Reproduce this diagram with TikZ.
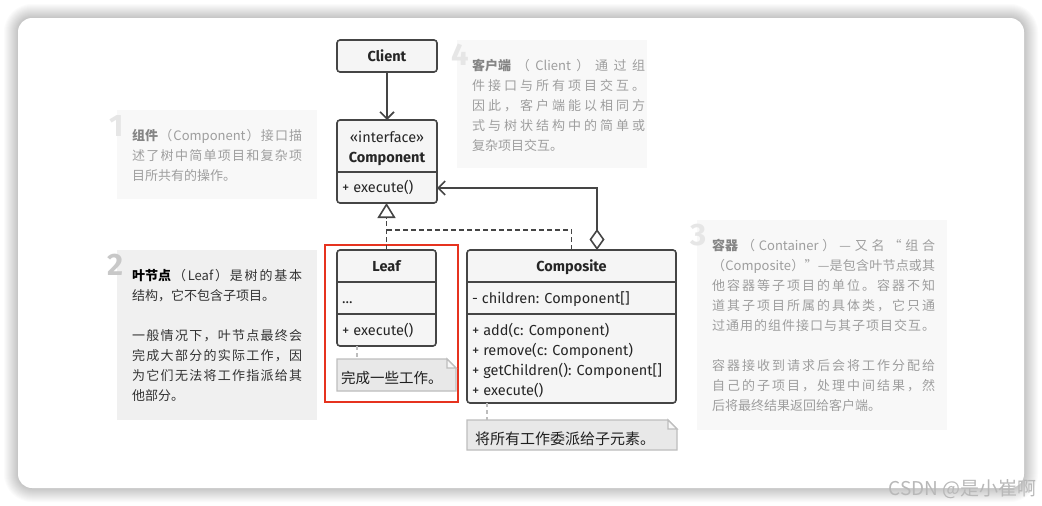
\documentclass[tikz,border=0pt]{standalone}
\usepackage{fontspec}
\setmainfont{Fira Sans}
\newfontfamily\cjk{Noto Sans CJK SC}
\usetikzlibrary{arrows.meta,calc}
\definecolor{umlline}{HTML}{454545}
\definecolor{umlfill}{HTML}{F5F5F5}
\definecolor{notefill}{HTML}{F8F8F8}
\definecolor{notefilldark}{HTML}{F0F0F0}
\definecolor{notegray}{HTML}{9E9E9E}
\definecolor{notegraybold}{HTML}{858585}
\definecolor{notedark}{HTML}{333333}
\definecolor{digitlight}{HTML}{E6E6E6}
\definecolor{digitdark}{HTML}{C8C8C8}
\definecolor{memofill}{HTML}{E8E8E8}
\definecolor{memoline}{HTML}{BDBDBD}
\definecolor{hlred}{HTML}{E6331F}
\definecolor{wmark}{HTML}{B8B8B8}
\makeatletter
\newcommand\jl[1]{\makebox[\linewidth][s]{\@tfor\jtok:=#1\do{{\jtok}\hfil}\unskip}}
\makeatother
\tikzset{
  umlbox/.style={draw=umlline, fill=umlfill, line width=1.6pt, rounded corners=3pt, inner sep=0pt, outer sep=0pt},
  divider/.style={draw=umlline, line width=1.6pt},
  umltext/.style={font=\fontsize{14.5}{17}\selectfont, text=black!85, inner sep=0pt},
  umlbold/.style={umltext, font=\fontsize{14.5}{17}\selectfont\bfseries},
  notebox/.style={fill=notefill, inner sep=0pt, outer sep=0pt},
  noteboxdark/.style={fill=notefilldark, inner sep=0pt, outer sep=0pt},
  notetext/.style={font=\cjk\fontsize{13}{20}\selectfont, text=notegray, align=left, inner sep=0pt, anchor=north west},
  notetextdark/.style={notetext, text=notedark},
  digit/.style={font=\fontsize{31}{31}\selectfont\bfseries, text=digitlight, inner sep=0pt, anchor=base west},
  memobox/.style={inner sep=0pt, outer sep=0pt},
  memoline/.style={draw=memoline, line width=1.4pt, fill=memofill},
  memotext/.style={font=\cjk\fontsize{15}{18}\selectfont, text=black!88, inner sep=0pt, anchor=base west},
  memolink/.style={draw=memoline, line width=1.4pt, dash pattern=on 4pt off 3pt},
  assoc/.style={draw=umlline, line width=1.6pt, -{Straight Barb[length=7pt,width=14pt]}},
  realize/.style={draw=umlline, line width=1.6pt, dash pattern=on 5pt off 3pt, -{Triangle[length=15pt,width=18pt,fill=white]}},
  realizeline/.style={draw=umlline, line width=1.6pt, dash pattern=on 5pt off 3pt},
  aggreg/.style={draw=umlline, line width=1.6pt, {Diamond[length=21pt,width=15pt,fill=white]}-{Straight Barb[length=7pt,width=14pt]}},
}
\begin{document}
\begin{tikzpicture}[x=1pt,y=-1pt]
\useasboundingbox (0,0) rectangle (1042,506);
\fill[white] (0,0) rectangle (1042,506);
% card shadow
\foreach \i in {1,...,14}{
  \pgfmathsetmacro\rr{14+\i}
  \fill[black, opacity=0.015, rounded corners=\rr pt] (18-\i,18-\i) rectangle (1024+\i,488+\i);
}
\fill[white, rounded corners=14pt] (18,18) rectangle (1024,488);

% ---- notes ----
\node[notebox, minimum width=200, minimum height=89] (note1) at (217,154.5) {};
\node[digit] (d1) at (109,136) {1};
\node[notetext] (n1t) at (132,129) [text width=170pt] {%
\jl{{\color{notegraybold}\bfseries 组件}（{Component}）接口描}\\
\jl{述了树中简单项目和复杂项}\\
目所共有的操作。};

\node[notebox, minimum width=190, minimum height=128] (note4) at (552,104) {};
\node[digit] (d4) at (451,65) {4};
\node[notetext] (n4t) at (472,59) [text width=173pt] {%
\jl{{\color{notegraybold}\bfseries 客户端}（{Client}）通过组}\\
\jl{件接口与所有项目交互。}\\
\jl{因此，客户端能以相同方}\\
\jl{式与树状结构中的简单或}\\
复杂项目交互。};

\node[noteboxdark, minimum width=200, minimum height=170] (note2) at (217,335) {};
\node[digit, text=digitdark] (d2) at (107,275) {2};
\node[notetextdark] (n2t) at (132,269) [text width=170pt] {%
\jl{{\color{black}\bfseries 叶节点}（{Leaf}）是树的基本}\\
结构，它不包含子项目。\\
\mbox{}\\
\jl{一般情况下，叶节点最终会}\\
\jl{完成大部分的实际工作，因}\\
\jl{为它们无法将工作指派给其}\\
他部分。};

\node[notebox, minimum width=250, minimum height=210] (note3) at (822,325) {};
\node[digit] (d3) at (690,245) {3};
\node[notetext] (n3t) at (712,239) [text width=223pt] {%
\jl{{\color{notegraybold}\bfseries 容器}（{Container}）—又名“组合}\\
\jl{（{Composite}）”—是包含叶节点或其}\\
\jl{他容器等子项目的单位。容器不知}\\
\jl{道其子项目所属的具体类，它只通}\\
\jl{过通用的组件接口与其子项目交互。}\\
\mbox{}\\
\jl{容器接收到请求后会将工作分配给}\\
\jl{自己的子项目，处理中间结果，然}\\
后将最终结果返回给客户端。};

% ---- highlight ----
\node[draw=hlred, line width=2.2pt, minimum width=133, minimum height=157, inner sep=0pt] (hl) at (391.5,323.5) {};

% ---- UML classes ----
\node[umlbox, minimum width=100, minimum height=32] (client) at (387,56) {};
\node[umlbold, anchor=base] (clientt) at (387,61) {Client};

\node[umlbox, minimum width=100, minimum height=83] (comp) at (387,161.5) {};
\draw[divider] ($(comp.south west)+(0,-31)$) -- ($(comp.south east)+(0,-31)$);
\node[umltext, anchor=base] (compst) at (387,142) {«interface»};
\node[umlbold, anchor=base] (compt) at (387,162) {Component};
\node[umltext, anchor=base west] (compop) at (342,192) {+ execute()};

\node[umlbox, minimum width=99, minimum height=96] (leaf) at (386.5,298) {};
\draw[divider] ($(leaf.north west)+(0,32)$) -- ($(leaf.north east)+(0,32)$);
\draw[divider] ($(leaf.north west)+(0,64)$) -- ($(leaf.north east)+(0,64)$);
\node[umlbold, anchor=base] (leaft) at (386.5,271) {Leaf};
\node[umltext, anchor=base west] (leafat) at (342,303) {...};
\node[umltext, anchor=base west] (leafop) at (342,335) {+ execute()};

\node[umlbox, minimum width=209, minimum height=153] (composite) at (571.5,326.5) {};
\draw[divider] ($(composite.north west)+(0,32)$) -- ($(composite.north east)+(0,32)$);
\draw[divider] ($(composite.north west)+(0,64)$) -- ($(composite.north east)+(0,64)$);
\node[umlbold, anchor=base] (compot) at (571.5,271) {Composite};
\node[umltext, anchor=base west] (compoat) at (472,303) {- children: Component[]};
\node[umltext, anchor=base west] (compo1) at (472,335) {+ add(c: Component)};
\node[umltext, anchor=base west] (compo2) at (472,355) {+ remove(c: Component)};
\node[umltext, anchor=base west] (compo3) at (472,375) {+ getChildren(): Component[]};
\node[umltext, anchor=base west] (compo4) at (472,395) {+ execute()};

% ---- memo notes ----
\node[memobox, minimum width=119, minimum height=32] (leafnote) at (396.5,375) {};
\draw[memoline] (leafnote.north west) -- ($(leafnote.north east)+(-9,0)$) -- ($(leafnote.north east)+(0,9)$) -- (leafnote.south east) -- (leafnote.south west) -- cycle;
\draw[memoline, fill=white!70!memofill] ($(leafnote.north east)+(-9,0)$) -- ($(leafnote.north east)+(-9,9)$) -- ($(leafnote.north east)+(0,9)$) -- cycle;
\node[memotext, font=\cjk\fontsize{14.5}{18}\selectfont] (leafnotet) at (341,383) {完成一些工作。};

\node[memobox, minimum width=210, minimum height=30] (compnote) at (572,435) {};
\draw[memoline] (compnote.north west) -- ($(compnote.north east)+(-9,0)$) -- ($(compnote.north east)+(0,9)$) -- (compnote.south east) -- (compnote.south west) -- cycle;
\draw[memoline, fill=white!70!memofill] ($(compnote.north east)+(-9,0)$) -- ($(compnote.north east)+(-9,9)$) -- ($(compnote.north east)+(0,9)$) -- cycle;
\node[memotext] (compnotet) at (475,444) {将所有工作委派给子元素。};

\draw[memolink] ($(leaf.south west)+(20,0)$) -- ($(leafnote.north west)+(20,0)$);
\draw[memolink] ($(composite.south west)+(20,0)$) -- ($(compnote.north west)+(20,0)$);

% ---- connectors ----
\draw[assoc] (client.south) -- (comp.north);
\coordinate (junction) at (leaf.north |- 0,230);
\draw[realize] (leaf.north) -- (leaf.north |- comp.south);
\draw[realizeline] (composite.north) |- (junction);
\coordinate (aggstart) at ($(composite.north)+(25.5,0)$);
\coordinate (aggend) at ($(comp.south east)+(0,-15)$);
\draw[aggreg] (aggstart) |- (aggend);

% ---- watermark ----
\node[font=\cjk\fontsize{19}{22}\selectfont, text=wmark, anchor=east, inner sep=0pt] (wm) at (1037,489) {CSDN @是小崔啊};
\end{tikzpicture}
\end{document}
